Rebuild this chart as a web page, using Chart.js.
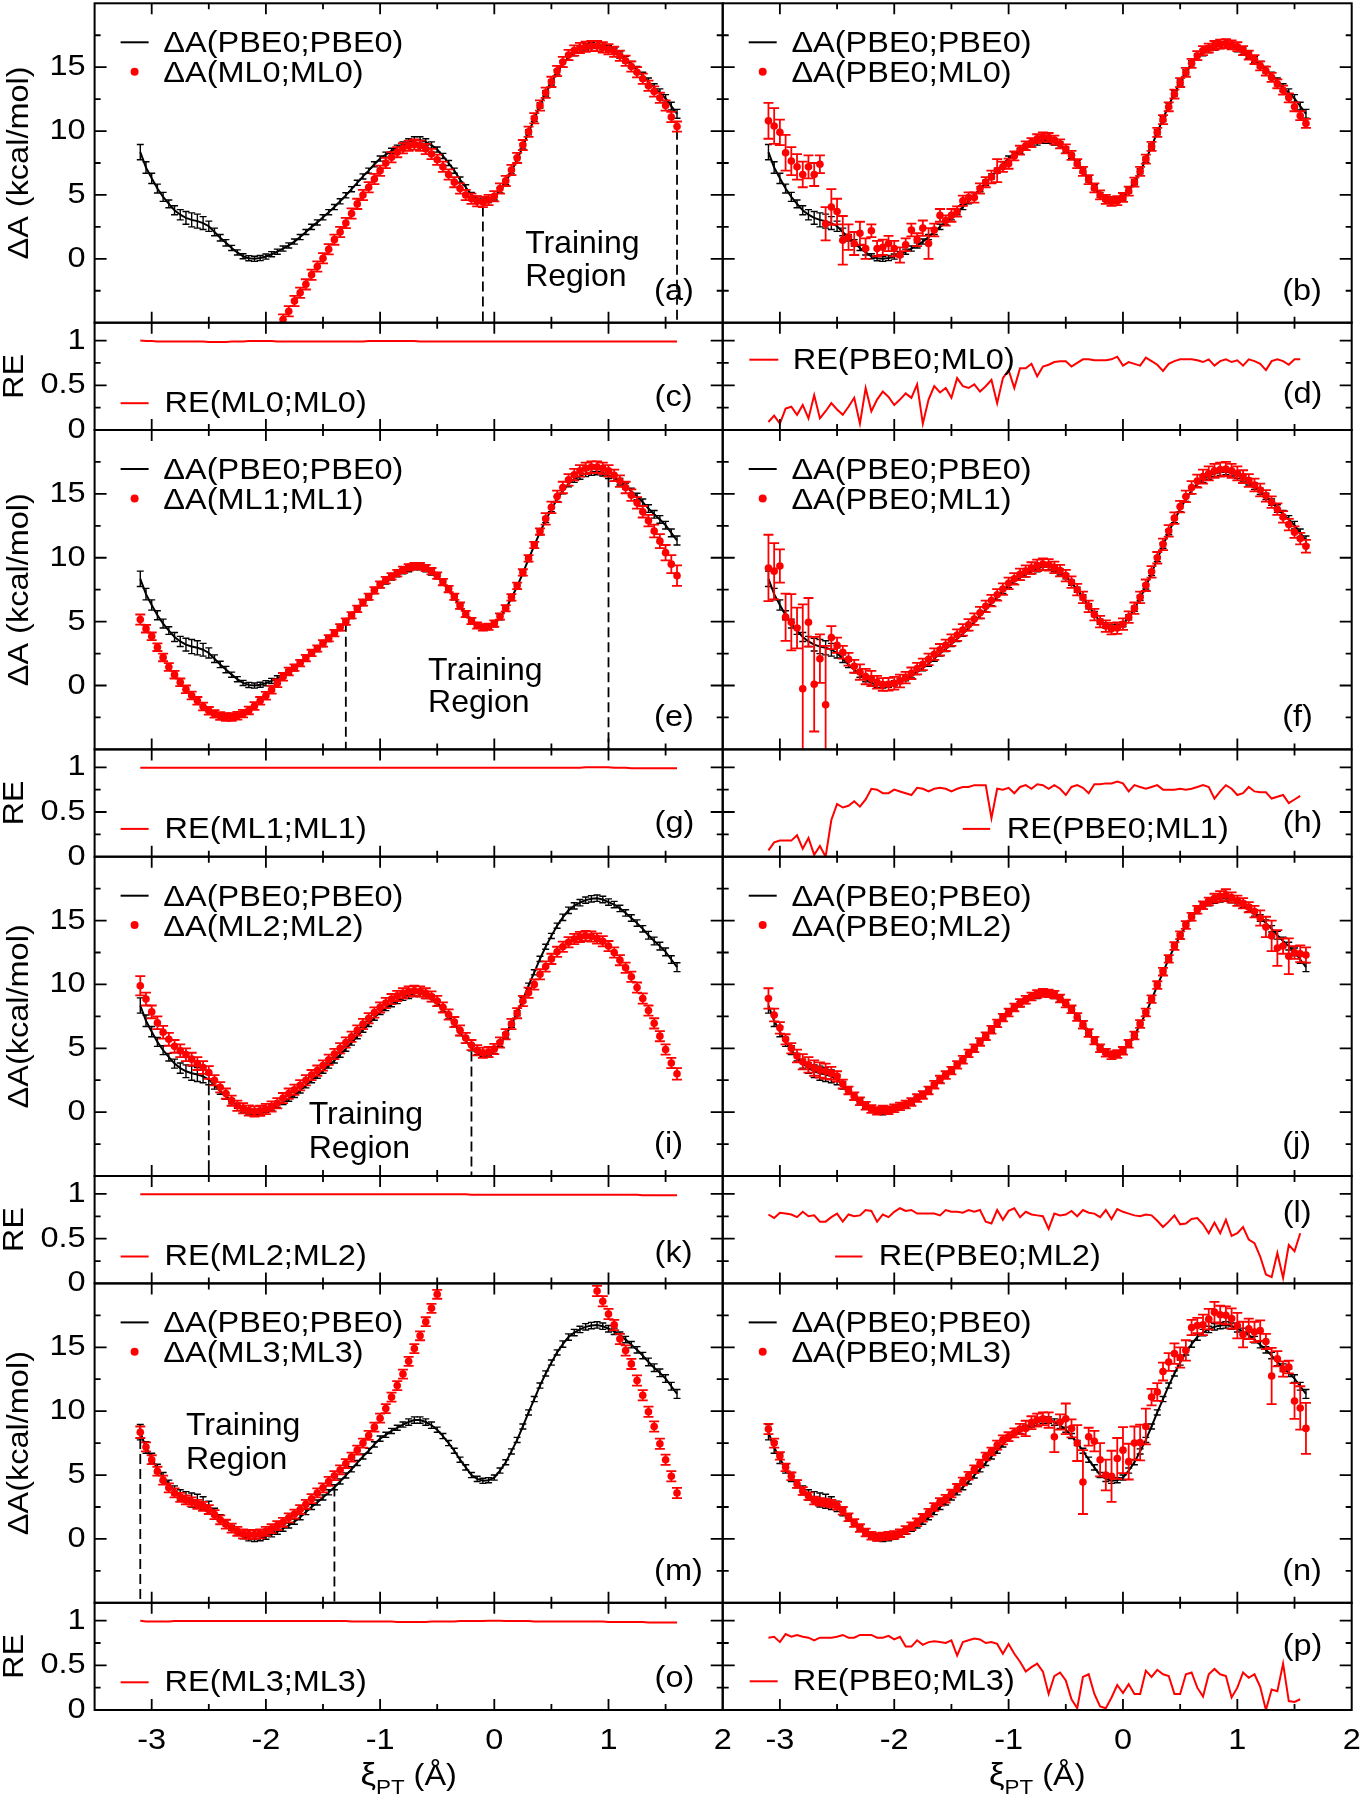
<!DOCTYPE html>
<html><head><meta charset="utf-8"><title>Free energy profiles along xi_PT</title>
<script src="https://cdn.jsdelivr.net/npm/chart.js@4.4.1/dist/chart.umd.min.js"></script>
<style>
html,body{margin:0;padding:0;background:#fff;}
#page{position:relative;width:1363px;height:1800px;overflow:hidden;background:#fff;}
#page canvas{position:absolute;}
</style></head><body><div id="page"></div>
<script>
// ================= DATA =================
// reaction coordinate xi_PT (Angstrom)
const xi = [-3.10,-3.05,-3.00,-2.95,-2.90,-2.85,-2.80,-2.75,-2.70,-2.65,
-2.60,-2.55,-2.50,-2.45,-2.40,-2.35,-2.30,-2.25,-2.20,-2.15,
-2.10,-2.05,-2.00,-1.95,-1.90,-1.85,-1.80,-1.75,-1.70,-1.65,
-1.60,-1.55,-1.50,-1.45,-1.40,-1.35,-1.30,-1.25,-1.20,-1.15,
-1.10,-1.05,-1.00,-0.95,-0.90,-0.85,-0.80,-0.75,-0.70,-0.65,
-0.60,-0.55,-0.50,-0.45,-0.40,-0.35,-0.30,-0.25,-0.20,-0.15,
-0.10,-0.05,0.00,0.05,0.10,0.15,0.20,0.25,0.30,0.35,
0.40,0.45,0.50,0.55,0.60,0.65,0.70,0.75,0.80,0.85,
0.90,0.95,1.00,1.05,1.10,1.15,1.20,1.25,1.30,1.35,
1.40,1.45,1.50,1.55,1.60];

// dA(PBE0;PBE0) reference (kcal/mol)
const dA_PBE0 = [8.35,7.15,6.3,5.5,4.85,4.3,3.8,3.45,3.2,3.05,
2.95,2.8,2.55,2.1,1.65,1.25,0.85,0.5,0.2,0.05,
0.0,0.06,0.18,0.36,0.56,0.8,1.05,1.35,1.7,2.1,
2.5,2.85,3.25,3.65,4.05,4.5,4.97,5.45,5.95,6.45,
6.9,7.4,7.85,8.15,8.45,8.7,8.95,9.15,9.3,9.3,
9.15,8.9,8.55,8.05,7.5,6.9,6.2,5.6,5.0,4.7,
4.55,4.6,4.8,5.35,6.0,6.85,7.75,8.8,9.9,10.95,
12.0,12.95,13.8,14.6,15.25,15.8,16.15,16.4,16.6,16.7,
16.75,16.65,16.45,16.25,15.95,15.6,15.2,14.8,14.35,13.85,
13.4,13.0,12.55,11.95,11.35];
const err_PBE0 = [0.6,0.45,0.4,0.35,0.35,0.3,0.35,0.4,0.5,0.55,
0.55,0.5,0.4,0.3,0.25,0.25,0.2,0.2,0.2,0.2,
0.2,0.2,0.2,0.2,0.2,0.2,0.2,0.2,0.2,0.2,
0.2,0.2,0.2,0.2,0.2,0.2,0.2,0.2,0.2,0.2,
0.2,0.2,0.2,0.2,0.2,0.2,0.2,0.25,0.25,0.25,
0.25,0.25,0.2,0.2,0.2,0.2,0.2,0.2,0.2,0.2,
0.2,0.2,0.2,0.2,0.2,0.2,0.2,0.2,0.2,0.2,
0.2,0.2,0.2,0.2,0.25,0.25,0.25,0.25,0.25,0.25,
0.25,0.25,0.25,0.25,0.25,0.25,0.25,0.25,0.25,0.3,
0.3,0.3,0.3,0.3,0.35];

// (a) dA(ML0;ML0)
const dA_ML0 = [null,null,null,null,null,null,null,null,null,null,
null,null,null,null,null,null,null,null,null,null,
null,null,null,null,null,-4.75,-4.1,-3.3,-2.65,-2.0,
-1.25,-0.6,0.05,0.75,1.5,2.1,2.8,3.55,4.3,5.0,
5.6,6.25,6.9,7.5,7.95,8.35,8.65,8.85,8.95,8.85,
8.6,8.2,7.75,7.2,6.6,6.0,5.5,5.0,4.7,4.5,
4.45,4.6,4.9,5.5,6.1,6.95,7.9,8.9,9.95,11.0,
12.0,13.0,13.85,14.7,15.4,15.95,16.3,16.5,16.6,16.65,
16.65,16.55,16.4,16.2,15.9,15.5,15.05,14.6,14.1,13.55,
13.1,12.6,12.0,11.1,10.35];
const err_ML0 = [null,null,null,null,null,null,null,null,null,null,
null,null,null,null,null,null,null,null,null,null,
null,null,null,null,null,0.4,0.4,0.4,0.4,0.4,
0.4,0.4,0.4,0.4,0.4,0.4,0.4,0.4,0.4,0.4,
0.4,0.4,0.4,0.4,0.4,0.4,0.4,0.4,0.4,0.4,
0.4,0.4,0.4,0.4,0.4,0.4,0.4,0.4,0.4,0.4,
0.4,0.4,0.4,0.4,0.4,0.4,0.4,0.4,0.4,0.4,
0.4,0.4,0.4,0.4,0.4,0.4,0.4,0.4,0.4,0.4,
0.4,0.4,0.4,0.4,0.4,0.4,0.4,0.4,0.4,0.4,
0.4,0.4,0.4,0.4,0.4];

// (b) dA(PBE0;ML0)
const dA_PBE0_ML0 = [10.8,10.4,9.9,8.3,7.65,7.2,6.6,7.2,6.6,7.4,
2.75,4.05,3.7,1.45,1.7,1.2,2.0,0.8,2.2,0.8,
0.9,1.2,0.8,0.3,1.1,2.25,1.5,2.4,1.2,2.25,
3.4,3.0,3.4,3.7,4.55,4.8,4.8,5.5,6.0,6.4,
6.9,7.2,7.45,8.05,8.5,8.85,9.1,9.4,9.55,9.5,
9.3,9.0,8.6,8.1,7.45,6.85,6.2,5.55,5.0,4.65,
4.5,4.55,4.8,5.3,6.0,6.85,7.8,8.8,9.9,10.9,
11.9,12.9,13.8,14.6,15.3,15.9,16.3,16.5,16.7,16.8,
16.85,16.75,16.6,16.3,15.95,15.6,15.1,14.7,14.2,13.7,
13.2,12.6,11.9,11.2,10.6];
const err_PBE0_ML0 = [1.4,1.4,1.0,1.4,1.1,1.0,1.0,0.9,0.9,0.7,
1.3,1.4,1.0,1.9,1.0,0.9,0.9,0.8,0.5,0.6,
0.6,0.6,0.6,0.6,0.5,0.5,0.5,0.6,1.2,0.5,
0.5,0.4,0.5,0.4,0.4,0.4,0.4,0.4,0.4,0.5,
0.9,0.4,0.4,0.35,0.35,0.35,0.35,0.35,0.35,0.35,
0.35,0.35,0.35,0.35,0.35,0.35,0.35,0.35,0.35,0.35,
0.35,0.35,0.35,0.35,0.35,0.35,0.35,0.35,0.35,0.35,
0.35,0.35,0.35,0.35,0.35,0.35,0.35,0.35,0.35,0.35,
0.35,0.35,0.35,0.35,0.35,0.35,0.35,0.35,0.35,0.35,
0.35,0.35,0.35,0.35,0.35];

// (e) dA(ML1;ML1)
const dA_ML1 = [5.16,4.45,3.85,3.0,2.2,1.45,0.85,0.25,-0.3,-0.78,
-1.2,-1.64,-1.98,-2.22,-2.39,-2.47,-2.47,-2.37,-2.2,-1.95,
-1.6,-1.2,-0.8,-0.33,0.17,0.68,1.1,1.4,1.75,2.15,
2.55,2.9,3.3,3.7,4.1,4.55,5.0,5.5,6.0,6.5,
6.95,7.45,7.9,8.25,8.55,8.8,9.05,9.25,9.35,9.35,
9.2,8.95,8.6,8.1,7.55,6.95,6.25,5.6,5.05,4.7,
4.55,4.6,4.85,5.4,6.05,6.9,7.8,8.85,9.95,11.0,
12.05,13.05,13.95,14.8,15.5,16.1,16.5,16.8,17.0,17.1,
17.1,17.0,16.8,16.45,16.0,15.5,14.9,14.3,13.6,12.9,
12.1,11.3,10.4,9.5,8.6];
const err_ML1 = [0.4,0.3,0.3,0.3,0.3,0.3,0.3,0.3,0.3,0.3,
0.3,0.3,0.3,0.3,0.3,0.3,0.3,0.3,0.3,0.3,
0.3,0.3,0.3,0.3,0.3,0.3,0.3,0.25,0.25,0.25,
0.25,0.25,0.25,0.25,0.25,0.25,0.25,0.25,0.25,0.25,
0.25,0.25,0.25,0.25,0.25,0.25,0.25,0.25,0.25,0.25,
0.25,0.25,0.25,0.25,0.25,0.25,0.25,0.25,0.25,0.25,
0.25,0.25,0.25,0.25,0.25,0.25,0.25,0.25,0.25,0.25,
0.25,0.45,0.45,0.45,0.45,0.45,0.45,0.45,0.45,0.45,
0.45,0.45,0.45,0.45,0.45,0.45,0.45,0.45,0.45,0.45,
0.5,0.55,0.6,0.7,0.8];

// (f) dA(PBE0;ML1)
const dA_PBE0_ML1 = [9.2,8.95,9.35,5.35,4.95,4.5,-0.25,4.95,0.1,2.1,
-1.5,3.75,3.15,2.6,2.05,1.5,1.05,0.7,0.55,0.25,
0.08,0.1,0.18,0.36,0.62,0.96,1.33,1.66,2.05,2.45,
2.8,3.15,3.55,3.95,4.35,4.75,5.2,5.7,6.2,6.65,
7.1,7.55,8.0,8.35,8.7,8.95,9.2,9.4,9.5,9.45,
9.25,9.0,8.6,8.1,7.5,6.9,6.2,5.55,5.0,4.65,
4.45,4.5,4.8,5.35,6.05,6.9,7.85,8.9,10.0,11.05,
12.1,13.1,14.0,14.8,15.5,16.0,16.35,16.6,16.8,16.9,
16.95,16.8,16.6,16.35,16.05,15.7,15.3,14.85,14.35,13.8,
13.2,12.6,12.0,11.5,10.9];
const err_PBE0_ML1 = [2.6,2.2,1.3,1.85,2.2,1.6,6.6,1.9,3.7,1.9,
4.6,0.9,0.6,0.5,0.5,0.5,0.6,0.6,0.6,0.5,
0.5,0.5,0.5,0.5,0.45,0.45,0.45,0.45,0.45,0.45,
0.45,0.45,0.45,0.45,0.45,0.45,0.45,0.45,0.45,0.45,
0.45,0.45,0.45,0.45,0.45,0.45,0.45,0.45,0.45,0.45,
0.45,0.45,0.45,0.45,0.45,0.45,0.45,0.45,0.45,0.45,
0.45,0.45,0.45,0.45,0.45,0.45,0.45,0.45,0.45,0.45,
0.45,0.45,0.45,0.45,0.5,0.5,0.55,0.55,0.55,0.55,
0.55,0.55,0.55,0.5,0.5,0.5,0.5,0.45,0.45,0.45,
0.45,0.45,0.45,0.45,0.5];

// (i) dA(ML2;ML2)
const dA_ML2 = [9.9,8.85,7.85,7.0,6.25,5.7,5.15,4.8,4.5,4.15,
3.8,3.5,3.1,2.5,1.95,1.45,0.9,0.5,0.3,0.13,
0.05,0.1,0.25,0.45,0.7,1.1,1.45,1.75,2.1,2.5,
2.9,3.25,3.65,4.1,4.55,5.0,5.45,5.9,6.4,6.9,
7.35,7.8,8.2,8.55,8.85,9.1,9.3,9.45,9.5,9.45,
9.3,9.05,8.7,8.2,7.65,7.05,6.4,5.8,5.25,4.85,
4.65,4.7,4.95,5.45,6.1,6.9,7.75,8.7,9.35,10.0,
10.8,11.4,12.0,12.55,12.95,13.3,13.55,13.72,13.8,13.75,
13.6,13.38,13.0,12.5,11.9,11.3,10.6,9.75,8.9,7.95,
6.95,5.95,4.9,3.85,3.0];
const err_ML2 = [0.75,0.5,0.5,0.5,0.5,0.5,0.5,0.5,0.5,0.5,
0.5,0.5,0.5,0.4,0.4,0.4,0.4,0.4,0.4,0.4,
0.4,0.4,0.4,0.4,0.4,0.4,0.4,0.4,0.4,0.4,
0.4,0.4,0.4,0.4,0.4,0.4,0.4,0.4,0.4,0.4,
0.4,0.4,0.4,0.4,0.4,0.4,0.4,0.4,0.4,0.4,
0.4,0.4,0.4,0.4,0.4,0.4,0.4,0.4,0.4,0.4,
0.4,0.4,0.4,0.4,0.4,0.4,0.4,0.4,0.4,0.4,
0.4,0.4,0.4,0.4,0.4,0.4,0.4,0.4,0.4,0.4,
0.4,0.4,0.4,0.4,0.4,0.4,0.4,0.4,0.4,0.4,
0.4,0.4,0.4,0.4,0.45];

// (j) dA(PBE0;ML2)
const dA_PBE0_ML2 = [8.9,7.6,6.6,5.7,5.0,4.4,3.95,3.7,3.45,3.3,
3.2,3.05,2.8,2.2,1.7,1.25,0.85,0.5,0.25,0.1,
0.2,0.15,0.3,0.45,0.6,0.8,1.1,1.35,1.7,2.15,
2.55,2.9,3.25,3.7,4.1,4.6,5.0,5.5,5.95,6.45,
6.95,7.4,7.8,8.2,8.55,8.8,9.05,9.25,9.35,9.3,
9.2,8.9,8.5,8.05,7.45,6.85,6.2,5.6,5.0,4.65,
4.45,4.55,4.8,5.35,6.0,6.9,7.8,8.85,9.95,11.0,
12.0,13.0,13.85,14.65,15.3,15.85,16.2,16.5,16.75,16.9,
17.0,16.8,16.55,16.35,16.05,15.7,15.2,14.5,13.8,12.85,
13.0,12.2,12.5,12.4,12.3];
const err_PBE0_ML2 = [0.8,0.5,0.45,0.4,0.4,0.5,0.6,0.6,0.6,0.6,
0.6,0.5,0.4,0.35,0.3,0.3,0.3,0.3,0.3,0.3,
0.3,0.3,0.3,0.3,0.3,0.3,0.3,0.3,0.3,0.3,
0.3,0.3,0.3,0.3,0.3,0.3,0.3,0.3,0.3,0.3,
0.3,0.3,0.3,0.3,0.3,0.3,0.3,0.3,0.3,0.3,
0.3,0.3,0.3,0.3,0.3,0.3,0.3,0.3,0.3,0.3,
0.3,0.3,0.3,0.3,0.3,0.3,0.3,0.3,0.3,0.3,
0.3,0.3,0.3,0.3,0.3,0.3,0.3,0.3,0.35,0.4,
0.45,0.4,0.4,0.4,0.4,0.45,0.6,0.8,1.2,1.4,
0.6,1.4,0.5,0.65,0.6];

// (m) dA(ML3;ML3)
const dA_ML3 = [8.35,7.2,6.2,5.3,4.6,4.0,3.6,3.25,3.05,2.9,
2.7,2.55,2.3,1.9,1.5,1.15,0.85,0.6,0.4,0.35,
0.35,0.4,0.6,0.8,1.05,1.3,1.65,1.95,2.3,2.7,
3.15,3.6,4.0,4.5,4.95,5.4,5.9,6.4,6.95,7.5,
8.1,8.75,9.45,10.2,11.1,12.0,12.9,13.9,14.9,15.9,
17.0,18.05,19.15,null,null,null,null,null,null,null,
null,null,null,null,null,null,null,null,null,null,
null,null,null,null,null,null,null,null,null,null,
19.4,18.6,17.6,16.75,15.65,14.75,13.7,12.4,11.25,9.95,
8.8,7.45,6.2,4.9,3.6];
const err_ML3 = [0.45,0.35,0.35,0.35,0.35,0.35,0.35,0.35,0.35,0.35,
0.35,0.35,0.35,0.35,0.35,0.35,0.35,0.35,0.35,0.35,
0.35,0.35,0.35,0.35,0.35,0.35,0.35,0.35,0.35,0.35,
0.35,0.35,0.35,0.35,0.35,0.35,0.35,0.35,0.35,0.35,
0.35,0.35,0.35,0.35,0.35,0.35,0.35,0.35,0.35,0.35,
0.35,0.35,0.35,null,null,null,null,null,null,null,
null,null,null,null,null,null,null,null,null,null,
null,null,null,null,null,null,null,null,null,null,
0.4,0.4,0.4,0.4,0.4,0.4,0.4,0.4,0.4,0.4,
0.4,0.4,0.4,0.4,0.4];

// (n) dA(PBE0;ML3)
const dA_PBE0_ML3 = [8.6,7.5,6.5,5.6,4.9,4.3,3.75,3.35,3.0,2.9,
2.85,2.75,2.6,2.2,1.7,1.25,0.85,0.5,0.25,0.15,
0.2,0.25,0.3,0.45,0.7,1.0,1.3,1.65,2.05,2.5,
2.9,3.15,3.55,4.0,4.5,4.95,5.45,5.9,6.45,6.85,
7.35,7.75,8.0,8.3,8.6,8.65,9.1,9.3,9.4,9.3,
8.0,9.15,9.4,8.65,7.5,4.45,8.0,7.65,6.2,5.0,
4.9,6.3,6.95,6.05,7.5,7.55,8.8,11.1,11.5,13.1,
13.85,14.5,14.2,14.75,16.55,16.7,16.75,17.2,17.75,17.55,
17.5,17.25,16.7,16.0,16.45,16.2,16.3,15.45,12.75,14.1,
13.3,13.45,10.8,10.25,8.65];
const err_PBE0_ML3 = [0.4,0.35,0.3,0.3,0.3,0.3,0.3,0.3,0.3,0.3,
0.3,0.3,0.3,0.3,0.3,0.3,0.3,0.3,0.3,0.3,
0.3,0.3,0.3,0.3,0.3,0.3,0.3,0.3,0.3,0.3,
0.3,0.3,0.3,0.3,0.3,0.3,0.3,0.3,0.3,0.3,
0.35,0.35,0.35,0.35,0.4,0.6,0.5,0.5,0.5,0.6,
1.2,0.6,1.2,0.7,1.4,2.5,0.7,0.8,1.3,1.2,
2.0,1.6,1.8,1.4,1.3,1.4,1.4,0.65,0.7,0.7,
0.7,0.8,0.8,0.8,0.6,0.6,0.8,0.8,0.8,0.7,
0.7,0.8,1.0,1.0,0.8,0.8,0.8,0.6,2.2,0.6,
0.6,0.5,1.4,1.7,2.0];

// relative entropy (RE) series
const RE_ML0 = [1.0,0.995,0.995,0.99,0.99,0.99,0.99,0.99,0.99,0.99,
0.99,0.99,0.985,0.985,0.985,0.985,0.99,0.99,0.99,0.995,
0.995,0.995,0.995,0.995,0.99,0.99,0.99,0.99,0.99,0.99,
0.99,0.99,0.99,0.99,0.99,0.99,0.99,0.99,0.99,0.99,
0.995,0.995,0.995,0.995,0.995,0.995,0.995,0.995,0.995,0.99,
0.99,0.99,0.99,0.99,0.99,0.99,0.99,0.99,0.99,0.99,
0.99,0.99,0.99,0.99,0.99,0.99,0.99,0.99,0.99,0.99,
0.99,0.99,0.99,0.99,0.99,0.99,0.99,0.99,0.99,0.99,
0.99,0.99,0.99,0.99,0.99,0.99,0.99,0.99,0.99,0.99,
0.99,0.99,0.99,0.99,0.99];
const RE_PBE0_ML0 = [0.09,0.16,0.07,0.24,0.26,0.17,0.28,0.13,0.39,0.13,
0.21,0.30,0.23,0.17,0.26,0.36,0.07,0.47,0.21,0.34,
0.43,0.37,0.28,0.34,0.41,0.36,0.51,0.07,0.34,0.49,
0.42,0.47,0.36,0.58,0.49,0.47,0.51,0.43,0.49,0.56,
0.30,0.58,0.67,0.47,0.69,0.69,0.74,0.60,0.71,0.73,
0.76,0.77,0.77,0.71,0.75,0.79,0.79,0.78,0.78,0.78,
0.79,0.82,0.72,0.76,0.74,0.72,0.81,0.77,0.73,0.66,
0.74,0.77,0.79,0.79,0.79,0.78,0.76,0.79,0.72,0.77,
0.79,0.76,0.78,0.72,0.79,0.77,0.74,0.67,0.77,0.79,
0.77,0.73,0.79,0.79];
const RE_ML1 = [0.995,0.995,0.995,0.995,0.995,0.995,0.995,0.995,0.995,0.995,
0.995,0.995,0.995,0.995,0.995,0.995,0.995,0.995,0.995,0.995,
0.995,0.995,0.995,0.995,0.995,0.995,0.995,0.995,0.995,0.995,
0.995,0.995,0.995,0.995,0.995,0.995,0.995,0.995,0.995,0.995,
0.995,0.995,0.995,0.995,0.995,0.995,0.995,0.995,0.995,0.995,
0.995,0.995,0.995,0.995,0.995,0.995,0.995,0.995,0.995,0.995,
0.995,0.995,0.995,0.995,0.995,0.995,0.995,0.995,0.995,0.995,
0.995,0.995,0.995,0.995,0.995,0.995,0.995,0.995,1.0,1.0,
1.0,1.0,1.0,0.995,0.995,0.995,0.99,0.99,0.99,0.99,
0.99,0.99,0.99,0.99,0.99];
const RE_PBE0_ML1 = [0.07,0.16,0.18,0.18,0.18,0.24,0.09,0.21,0.02,0.12,
0.0,0.41,0.59,0.55,0.57,0.62,0.56,0.64,0.76,0.75,
0.71,0.71,0.75,0.73,0.71,0.69,0.77,0.76,0.73,0.76,
0.77,0.76,0.73,0.76,0.78,0.78,0.80,0.80,0.80,0.43,
0.76,0.75,0.77,0.71,0.78,0.80,0.76,0.81,0.80,0.76,
0.80,0.76,0.69,0.78,0.80,0.77,0.71,0.81,0.81,0.82,
0.82,0.84,0.82,0.73,0.80,0.78,0.76,0.78,0.80,0.75,
0.75,0.75,0.76,0.75,0.76,0.78,0.80,0.78,0.65,0.73,
0.80,0.76,0.69,0.71,0.78,0.73,0.72,0.72,0.65,0.67,
0.69,0.60,0.64,0.68];
const RE_ML2 = [0.995,0.995,0.995,0.995,0.995,0.995,0.995,0.995,0.995,0.995,
0.995,0.995,0.995,0.995,0.995,0.995,0.995,0.995,0.995,0.995,
0.995,0.995,0.995,0.995,0.995,0.995,0.995,0.995,0.995,0.995,
0.995,0.995,0.995,0.995,0.995,0.995,0.995,0.995,0.995,0.995,
0.995,0.995,0.995,0.995,0.995,0.995,0.995,0.995,0.995,0.995,
0.995,0.995,0.995,0.995,0.995,0.995,0.995,0.995,0.99,0.99,
0.99,0.99,0.99,0.99,0.99,0.99,0.99,0.99,0.99,0.99,
0.99,0.99,0.99,0.99,0.99,0.99,0.99,0.99,0.99,0.99,
0.99,0.99,0.99,0.99,0.99,0.99,0.99,0.99,0.985,0.985,
0.985,0.985,0.985,0.985,0.985];
const RE_PBE0_ML2 = [0.77,0.73,0.79,0.78,0.77,0.74,0.80,0.75,0.76,0.69,
0.69,0.74,0.78,0.69,0.77,0.75,0.76,0.82,0.81,0.69,
0.77,0.74,0.80,0.84,0.81,0.82,0.78,0.78,0.78,0.78,
0.76,0.82,0.80,0.80,0.79,0.82,0.80,0.82,0.69,0.67,
0.82,0.71,0.81,0.84,0.74,0.80,0.77,0.76,0.75,0.61,
0.78,0.76,0.77,0.81,0.75,0.82,0.79,0.78,0.74,0.82,
0.72,0.83,0.80,0.78,0.76,0.75,0.77,0.76,0.70,0.63,
0.69,0.76,0.66,0.67,0.72,0.73,0.66,0.56,0.68,0.56,
0.71,0.53,0.56,0.63,0.49,0.45,0.30,0.10,0.07,0.34,
0.06,0.43,0.36,0.56];
const RE_ML3 = [1.0,0.99,0.99,0.99,0.99,0.99,0.995,0.995,0.995,0.995,
0.995,0.995,0.995,0.995,0.995,0.995,0.995,0.995,0.995,0.995,
0.995,0.995,0.995,0.995,0.995,0.995,0.995,0.995,0.995,0.995,
0.995,0.995,0.995,0.995,0.995,0.995,0.995,0.99,0.99,0.99,
0.99,0.99,0.99,0.99,0.99,0.985,0.985,0.985,0.985,0.985,
0.985,0.99,0.99,0.99,0.99,0.99,0.995,0.995,0.995,0.995,
0.995,1.0,1.0,1.0,0.995,0.995,0.995,0.995,0.995,0.99,
0.99,0.99,0.99,0.99,0.99,0.99,0.99,0.99,0.99,0.99,
0.99,0.99,0.985,0.985,0.985,0.985,0.985,0.985,0.985,0.98,
0.98,0.98,0.98,0.98,0.98];
const RE_PBE0_ML3 = [0.81,0.82,0.76,0.85,0.82,0.84,0.82,0.81,0.78,0.81,
0.81,0.81,0.82,0.84,0.81,0.81,0.84,0.84,0.84,0.81,
0.81,0.83,0.79,0.82,0.71,0.71,0.78,0.73,0.76,0.77,
0.76,0.75,0.78,0.61,0.76,0.78,0.80,0.79,0.75,0.76,
0.74,0.63,0.74,0.63,0.54,0.43,0.48,0.52,0.43,0.18,
0.38,0.42,0.33,0.12,0.02,0.37,0.40,0.18,0.04,0.02,
0.14,0.28,0.19,0.29,0.18,0.18,0.44,0.37,0.45,0.40,
0.38,0.18,0.18,0.40,0.42,0.25,0.15,0.40,0.46,0.40,
0.38,0.14,0.25,0.42,0.36,0.40,0.26,0.0,0.23,0.21,
0.52,0.10,0.09,0.12];

// axis ticks and labels
const X_TICKS = [-3.5,-3,-2.5,-2,-1.5,-1,-0.5,0,0.5,1,1.5,2];
const X_LABEL_AT = [-3,-2,-1,0,1,2];
const X_LABELS = ['-3','-2','-1','0','1','2'];
const DA_TICKS = [-5,-2.5,0,2.5,5,7.5,10,12.5,15,17.5,20];
const DA_LABEL_AT = [0,5,10,15];
const DA_LABELS = ['0','5','10','15'];
const RE_TICKS = [0,0.25,0.5,0.75,1];
const RE_LABEL_AT = [0,0.5,1];
const RE_LABELS = ['0','0.5','1'];

// ================= LAYOUT =================
const FONT = '"Liberation Sans", Arial, Helvetica, sans-serif';
const FS = 29;          // base font size
const SX = 1.12;        // horizontal glyph stretch of the original figure
const RED = '#ff0000', BLACK = '#000000';
const COLS = [[94.6, 722.7], [722.7, 1351.7]];
const ROWS_A = [[3.3, 322.7], [430, 749.4], [856.7, 1176], [1283.4, 1602.8]];
const ROWS_R = [[322.7, 430], [749.4, 856.7], [1176, 1283.4], [1602.8, 1710]];

const PANELS = [
 {c:0,r:0,k:'A',lab:'(a)',yt:'\u0394A (kcal/mol)',red:[dA_ML0,err_ML0],leg:'\u0394A(ML0;ML0)',dash:[[-0.1,4.1],[1.6,10.1]],train:[0.27,1.35,-1.22]},
 {c:1,r:0,k:'A',lab:'(b)',red:[dA_PBE0_ML0,err_PBE0_ML0],leg:'\u0394A(PBE0;ML0)'},
 {c:0,r:0,k:'R',lab:'(c)',labY:75,yt:'RE',re:RE_ML0,leg:'RE(ML0;ML0)',lg:[26,54,70,79]},
 {c:1,r:0,k:'R',lab:'(d)',labY:72,re:RE_PBE0_ML0,leg:'RE(PBE0;ML0)',lg:[26.6,55.6,70,35.5]},
 {c:0,r:1,k:'A',lab:'(e)',yt:'\u0394A (kcal/mol)',red:[dA_ML1,err_ML1],leg:'\u0394A(ML1;ML1)',dash:[[-1.3,5.0],[1.0,16.3]],train:[-0.58,1.35,-1.16]},
 {c:1,r:1,k:'A',lab:'(f)',red:[dA_PBE0_ML1,err_PBE0_ML1],leg:'\u0394A(PBE0;ML1)'},
 {c:0,r:1,k:'R',lab:'(g)',labY:75,yt:'RE',re:RE_ML1,leg:'RE(ML1;ML1)',lg:[26,54,70,78]},
 {c:1,r:1,k:'R',lab:'(h)',labY:75,re:RE_PBE0_ML1,leg:'RE(PBE0;ML1)',lg:[240,267.5,284,78]},
 {c:0,r:2,k:'A',lab:'(i)',yt:'\u0394A(kcal/mol)',red:[dA_ML2,err_ML2],leg:'\u0394A(ML2;ML2)',dash:[[-2.5,2.1],[-0.2,4.75]],train:[-1.625,-0.05,-2.65]},
 {c:1,r:2,k:'A',lab:'(j)',red:[dA_PBE0_ML2,err_PBE0_ML2],leg:'\u0394A(PBE0;ML2)'},
 {c:0,r:2,k:'R',lab:'(k)',labY:78,yt:'RE',re:RE_ML2,leg:'RE(ML2;ML2)',lg:[26,54,70,79]},
 {c:1,r:2,k:'R',lab:'(l)',labY:38,re:RE_PBE0_ML2,leg:'RE(PBE0;ML2)',lg:[112.4,139.7,156,79]},
 {c:0,r:3,k:'A',lab:'(m)',yt:'\u0394A(kcal/mol)',red:[dA_ML3,err_ML3],leg:'\u0394A(ML3;ML3)',dash:[[-3.1,9.0],[-1.4,4.1]],train:[-2.70,9.0,6.4]},
 {c:1,r:3,k:'A',lab:'(n)',red:[dA_PBE0_ML3,err_PBE0_ML3],leg:'\u0394A(PBE0;ML3)'},
 {c:0,r:3,k:'R',lab:'(o)',labY:76,yt:'RE',re:RE_ML3,leg:'RE(ML3;ML3)',lg:[26,54,70,78]},
 {c:1,r:3,k:'R',lab:'(p)',labY:44,re:RE_PBE0_ML3,leg:'RE(PBE0;ML3)',lg:[27,55,70,77]}
];

function pts(arr) { return arr.map((v, i) => ({x: xi[i], y: v})); }
function text(ctx, s, x, y, size, align, base, sx) {
  const k = sx == null ? SX : sx;
  ctx.save();
  ctx.translate(x, y); ctx.scale(k, 1);
  ctx.font = size + 'px ' + FONT; ctx.textAlign = align; ctx.textBaseline = base; ctx.fillStyle = BLACK;
  ctx.fillText(s, 0, 0);
  ctx.restore();
}
function measure(ctx, s, size) { ctx.font = size + 'px ' + FONT; return ctx.measureText(s).width * SX; }
function clipArea(ctx, a) { ctx.beginPath(); ctx.rect(a.left, a.top, a.right - a.left, a.bottom - a.top); ctx.clip(); }

function deco(p) {
  return {
    id: 'deco',
    beforeDatasetsDraw(chart) {
      if (!p.dash) return;
      const {ctx, chartArea: a, scales: {x, y}} = chart;
      ctx.save(); clipArea(ctx, a);
      ctx.strokeStyle = BLACK; ctx.lineWidth = 1.8; ctx.setLineDash([10, 5]);
      p.dash.forEach(d => {
        const px = x.getPixelForValue(d[0]);
        ctx.beginPath(); ctx.moveTo(px, y.getPixelForValue(d[1])); ctx.lineTo(px, a.bottom); ctx.stroke();
      });
      ctx.restore();
    },
    afterDatasetDraw(chart, args) {
      const ds = chart.data.datasets[args.index];
      if (!ds.errors) return;
      const {ctx, chartArea: a, scales: {x, y}} = chart;
      ctx.save(); clipArea(ctx, a);
      ctx.strokeStyle = ds.borderColor; ctx.lineWidth = ds.ebWidth;
      ds.data.forEach((pt, i) => {
        const e = ds.errors[i];
        if (pt.y == null || e == null) return;
        const px = x.getPixelForValue(pt.x), y1 = y.getPixelForValue(pt.y - e), y2 = y.getPixelForValue(pt.y + e), c = ds.cap;
        ctx.beginPath();
        ctx.moveTo(px, y1); ctx.lineTo(px, y2);
        ctx.moveTo(px - c, y1); ctx.lineTo(px + c, y1);
        ctx.moveTo(px - c, y2); ctx.lineTo(px + c, y2);
        ctx.stroke();
      });
      ctx.restore();
    },
    afterDraw(chart) {
      const {ctx, chartArea: a, scales: {x, y}} = chart;
      const L = a.left, R = a.right, T = a.top, B = a.bottom;
      ctx.save();
      // ticks (inward, mirrored on all sides)
      ctx.strokeStyle = BLACK; ctx.lineWidth = 1.8; ctx.setLineDash([]);
      X_TICKS.forEach(v => {
        if (v <= x.min || v >= x.max) return;
        const px = x.getPixelForValue(v), len = Number.isInteger(v) ? 11 : 6;
        ctx.beginPath(); ctx.moveTo(px, B); ctx.lineTo(px, B - len); ctx.moveTo(px, T); ctx.lineTo(px, T + len); ctx.stroke();
      });
      const yt = p.k === 'A' ? DA_TICKS : RE_TICKS;
      yt.forEach(v => {
        if (v <= y.min || v >= y.max) return;
        const major = p.k === 'A' ? (v % 5 === 0) : (Math.abs(v * 2 - Math.round(v * 2)) < 1e-9);
        const py = y.getPixelForValue(v), len = major ? 12 : 6;
        ctx.beginPath(); ctx.moveTo(L, py); ctx.lineTo(L + len, py); ctx.moveTo(R, py); ctx.lineTo(R - len, py); ctx.stroke();
      });
      // frame
      ctx.lineWidth = 2;
      ctx.strokeRect(L, T, R - L, B - T);
      // y tick labels + axis title (left column)
      if (p.c === 0) {
        const at = p.k === 'A' ? DA_LABEL_AT : RE_LABEL_AT, lb = p.k === 'A' ? DA_LABELS : RE_LABELS;
        at.forEach((v, i) => text(ctx, lb[i], L - 9, y.getPixelForValue(v), FS, 'right', 'middle'));
        ctx.save();
        ctx.translate(p.k === 'A' ? L - 74.6 : L - 79.6, (T + B) / 2);
        ctx.rotate(-Math.PI / 2);
        text(ctx, p.yt, 0, 0, FS, 'center', 'middle');
        ctx.restore();
      }
      // x tick labels + axis title (bottom row)
      if (p.k === 'R' && p.r === 3) {
        X_LABEL_AT.forEach((v, i) => text(ctx, X_LABELS[i], x.getPixelForValue(v), B + 31, FS, 'center', 'middle'));
        const w1 = measure(ctx, '\u03BE', FS + 2), w2 = measure(ctx, 'PT', 20), w3 = measure(ctx, ' (\u00C5)', FS);
        let sx = (L + R) / 2 - (w1 + w2 + w3) / 2;
        const base = B + 75;
        text(ctx, '\u03BE', sx, base, FS + 2, 'left', 'alphabetic'); sx += w1;
        text(ctx, 'PT', sx, base + 9, 20, 'left', 'alphabetic'); sx += w2;
        text(ctx, ' (\u00C5)', sx, base, FS, 'left', 'alphabetic');
      }
      // legends and panel labels
      if (p.k === 'A') {
        ctx.strokeStyle = BLACK; ctx.lineWidth = 2;
        ctx.beginPath(); ctx.moveTo(L + 26, T + 39); ctx.lineTo(L + 54, T + 39); ctx.stroke();
        text(ctx, '\u0394A(PBE0;PBE0)', L + 68.7, T + 38.4 + 0.36 * FS, FS, 'left', 'alphabetic');
        ctx.fillStyle = RED; ctx.beginPath(); ctx.arc(L + 40, T + 68.4, 4, 0, Math.PI * 2); ctx.fill();
        text(ctx, p.leg, L + 68.7, T + 68.4 + 0.36 * FS, FS, 'left', 'alphabetic');
        text(ctx, p.lab, L + 559.5, B - 31, FS, 'left', 'middle');
      } else {
        const g = p.lg;
        ctx.strokeStyle = RED; ctx.lineWidth = 2;
        ctx.beginPath(); ctx.moveTo(L + g[0], T + g[3] + 1.5); ctx.lineTo(L + g[1], T + g[3] + 1.5); ctx.stroke();
        text(ctx, p.leg, L + g[2], T + g[3] + 0.36 * FS, FS, 'left', 'alphabetic');
        text(ctx, p.lab, L + 560, T + p.labY, FS, 'left', 'middle');
      }
      // training region text
      if (p.train) {
        const tx = x.getPixelForValue(p.train[0]);
        text(ctx, 'Training', tx, y.getPixelForValue(p.train[1]) + 0.36 * 32, 32, 'left', 'alphabetic', 1.0);
        text(ctx, 'Region', tx, y.getPixelForValue(p.train[2]) + 0.36 * 32, 32, 'left', 'alphabetic', 1.0);
      }
      ctx.restore();
    }
  };
}

const page = document.getElementById('page');
PANELS.forEach(p => {
  const [L, R] = COLS[p.c];
  const [T, B] = p.k === 'A' ? ROWS_A[p.r] : ROWS_R[p.r];
  const cx = p.c === 0 ? 0 : 690, cw = p.c === 0 ? 760 : 673;
  const cy = Math.max(0, Math.floor(T - 30));
  const ch = (p.k === 'R' && p.r === 3) ? 1800 - cy : Math.ceil(B + 30) - cy;
  const cv = document.createElement('canvas');
  cv.width = cw; cv.height = ch;
  cv.style.left = cx + 'px'; cv.style.top = cy + 'px';
  cv.style.width = cw + 'px'; cv.style.height = ch + 'px';
  page.appendChild(cv);
  const datasets = [];
  if (p.k === 'A') {
    datasets.push({data: pts(p.red[0]), errors: p.red[1], cap: 5, ebWidth: 1.8, borderColor: RED, backgroundColor: RED,
      showLine: false, pointRadius: 3.8, pointBorderWidth: 0, pointHoverRadius: 0, order: 0, clip: 0});
    datasets.push({data: pts(dA_PBE0), errors: err_PBE0, cap: 3.5, ebWidth: 1.4, borderColor: BLACK, backgroundColor: BLACK,
      showLine: true, borderWidth: 2, pointRadius: 0, pointHoverRadius: 0, tension: 0, order: 1, clip: 0});
  } else {
    datasets.push({data: pts(p.re), borderColor: RED, backgroundColor: RED, showLine: true, borderWidth: 2,
      pointRadius: 0, pointHoverRadius: 0, tension: 0, order: 0, clip: 0});
  }
  new Chart(cv, {
    type: 'line',
    data: {datasets},
    options: {
      responsive: false, animation: false, events: [], devicePixelRatio: 1,
      layout: {autoPadding: false, padding: {left: L - cx, right: (cx + cw) - R, top: T - cy, bottom: (cy + ch) - B}},
      scales: {
        x: {type: 'linear', min: -3.5, max: 2, display: false},
        y: {type: 'linear', min: p.k === 'A' ? -5 : 0, max: p.k === 'A' ? 20 : 1.2, display: false}
      },
      plugins: {legend: {display: false}, tooltip: {enabled: false}}
    },
    plugins: [deco(p)]
  });
});
</script></body></html>
